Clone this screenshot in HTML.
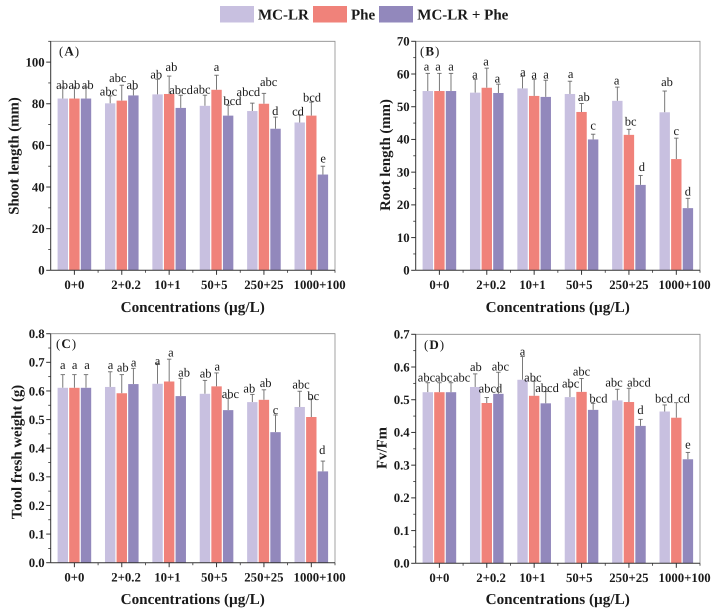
<!DOCTYPE html>
<html lang="en">
<head>
<meta charset="utf-8">
<title>Plant growth responses to MC-LR and Phe</title>
<style>
html,body{margin:0;padding:0;background:#fff;width:718px;height:614px;overflow:hidden}
svg{display:block;filter:blur(0.3px)}
text{font-family:"Liberation Serif",serif;fill:#1a1a1a;text-rendering:geometricPrecision}
.b{font-weight:bold}
</style>
</head>
<body>
<svg id="figure" width="718" height="614" viewBox="0 0 718 614" xmlns="http://www.w3.org/2000/svg">
  <g>
    <rect x="220" y="6" width="34" height="16.5" fill="#c8c0e0"/>
    <text class="b" x="258" y="19.5" font-size="15">MC-LR</text>
    <rect x="313" y="6" width="34" height="16.5" fill="#f0827a"/>
    <text class="b" x="351" y="19.5" font-size="15">Phe</text>
    <rect x="379" y="6" width="34" height="16.5" fill="#9288bc"/>
    <text class="b" x="417.3" y="19.5" font-size="15">MC-LR + Phe</text>
  </g>
</svg>
<script>
const categories = ['0+0','2+0.2','10+1','50+5','250+25','1000+100'];
const seriesNames = ['MC-LR','Phe','MC-LR + Phe'];
const seriesColors = ['#c8c0e0','#f0827a','#9288bc'];

const shootTicks = [0,20,40,60,80,100];
const shootMcLr = [82.5,80.2,84.5,79,76.5,71];
const shootPhe = [82.5,81.5,84.7,86.7,80,74.3];
const shootCombo = [82.5,84,78,74.3,68,46];
const shootMcLrErr = [5.5,3.6,7.3,5.1,3.8,3.7];
const shootPheErr = [5.5,7.4,8.6,7,5,6.5];
const shootComboErr = [5.5,3,6.1,5,5.6,4];
const shootMcLrLetters = ['ab','abc','ab','abc','abcd','cd'];
const shootPheLetters = ['ab','abc','ab','a','abc','bcd'];
const shootComboLetters = ['ab','ab','abcd','bcd','d','e'];
const shootMcLrLevels = [87.2,84,92.1,84.9,83.8,74.4];
const shootPheLevels = [87.2,90.4,95.7,95.7,88.5,81.1];
const shootComboLevels = [87.2,87.2,84.6,79.3,74.5,51.9];

const rootTicks = [0,10,20,30,40,50,60,70];
const rootMcLr = [54.8,54.3,55.6,53.9,51.8,48.3];
const rootPhe = [54.8,55.8,53.3,48.4,41.4,34];
const rootCombo = [54.8,54.2,53,40,26.1,19];
const rootMcLrErr = [5.4,4.1,3.7,3.9,4.2,6.5];
const rootPheErr = [5.4,6,5.1,2.6,1.7,6.4];
const rootComboErr = [5.4,2.7,5.1,1.6,2.9,3];
const rootMcLrLetters = ['a','a','a','a','a','ab'];
const rootPheLetters = ['a','a','a','ab','bc','c'];
const rootComboLetters = ['a','a','a','c','d','d'];
const rootMcLrLevels = [61,58.6,59.4,58.8,56.8,56.4];
const rootPheLevels = [61,62.6,58.7,51.7,44.2,41.4];
const rootComboLevels = [61,57.4,58.7,43.1,30.4,22.8];

const weightTicks = ['0.0','0.1','0.2','0.3','0.4','0.5','0.6','0.7','0.8'];
const weightMcLr = [0.611,0.614,0.625,0.59,0.561,0.544];
const weightPhe = [0.611,0.592,0.633,0.616,0.569,0.509];
const weightCombo = [0.611,0.624,0.582,0.533,0.456,0.319];
const weightMcLrErr = [0.046,0.053,0.071,0.047,0.027,0.055];
const weightPheErr = [0.046,0.065,0.078,0.047,0.035,0.063];
const weightComboErr = [0.046,0.055,0.062,0.041,0.06,0.036];
const weightMcLrLetters = ['a','a','a','ab','ab','abc'];
const weightPheLetters = ['a','ab','a','a','ab','bc'];
const weightComboLetters = ['a','a','ab','abc','c','d'];
const weightMcLrLevels = [0.677,0.677,0.691,0.647,0.594,0.609];
const weightPheLevels = [0.677,0.668,0.72,0.672,0.614,0.569];
const weightComboLevels = [0.677,0.686,0.651,0.575,0.519,0.38];

const fvTicks = ['0.0','0.1','0.2','0.3','0.4','0.5','0.6','0.7'];
const fvMcLr = [0.523,0.539,0.561,0.508,0.498,0.464];
const fvPhe = [0.523,0.49,0.512,0.524,0.493,0.445];
const fvCombo = [0.523,0.518,0.489,0.469,0.42,0.318];
const fvMcLrErr = [0.029,0.04,0.071,0.032,0.034,0.02];
const fvPheErr = [0.029,0.017,0.045,0.041,0.042,0.046];
const fvComboErr = [0.029,0.066,0.036,0.02,0.02,0.021];
const fvMcLrLetters = ['abc','ab','a','abc','abc','bcd'];
const fvPheLetters = ['abc','abcd','abc','abc','abcd','cd'];
const fvComboLetters = ['abc','abc','abcd','bcd','d','e'];
const fvMcLrLevels = [0.556,0.588,0.635,0.538,0.54,0.491];
const fvPheLevels = [0.556,0.522,0.556,0.574,0.54,0.491];
const fvComboLevels = [0.556,0.589,0.524,0.491,0.457,0.351];

const panels = [
  {key:'shoot',tag:'A',title:'Shoot length (mm)',max:110,ticks:shootTicks,
   left:50.7,top:41.3,base:270.3,tagX:59,tagY:55.5,titleX:18.5,titleY:156,xTitleY:312,xTickY:289,
   nudges:[[-0.7,-1.7,-1.3,-3,-4,-1.7],[0,-4,2.3,0,4.7,0.7],[1.7,-1,0.3,4.3,-0.3,0.3]],
   values:[shootMcLr,shootPhe,shootCombo],errs:[shootMcLrErr,shootPheErr,shootComboErr],
   letters:[shootMcLrLetters,shootPheLetters,shootComboLetters],levels:[shootMcLrLevels,shootPheLevels,shootComboLevels]},
  {key:'root',tag:'B',title:'Root length (mm)',max:70,ticks:rootTicks,
   left:415.7,top:41.3,base:270.3,tagX:420,tagY:55.5,titleX:390,titleY:155,xTitleY:312,xTickY:289,
   nudges:[[-1.3,-0.3,0.3,0.7,-0.7,2.3],[-1.3,-0.7,0,2.3,1.7,0],[0,-1,0.3,0,1.3,0]],
   values:[rootMcLr,rootPhe,rootCombo],errs:[rootMcLrErr,rootPheErr,rootComboErr],
   letters:[rootMcLrLetters,rootPheLetters,rootComboLetters],levels:[rootMcLrLevels,rootPheLevels,rootComboLevels]},
  {key:'weight',tag:'C',title:'Totol fresh weight (g)',max:0.8,ticks:weightTicks,
   left:50.7,top:333.7,base:562.7,tagX:56,tagY:348,titleX:21.5,titleY:452,xTitleY:604,xTickY:581.5,
   nudges:[[0,0.3,0,0.7,-3,1.3],[0.3,1,1.7,0.7,1.7,2],[1,0.3,3.3,2.3,0,-0.7]],
   values:[weightMcLr,weightPhe,weightCombo],errs:[weightMcLrErr,weightPheErr,weightComboErr],
   letters:[weightMcLrLetters,weightPheLetters,weightComboLetters],levels:[weightMcLrLevels,weightPheLevels,weightComboLevels]},
  {key:'fv',tag:'D',title:'Fv/Fm',max:0.7,ticks:fvTicks,
   left:415.7,top:334.3,base:563.3,tagX:424,tagY:349,titleX:386.5,titleY:448,xTitleY:604,xTickY:582,
   nudges:[[-1.3,0.7,0,0.7,-3.3,-0.7],[4.3,3.7,-1.3,0,10,7.7],[10.7,2,1.3,5.3,0,0]],
   values:[fvMcLr,fvPhe,fvCombo],errs:[fvMcLrErr,fvPheErr,fvComboErr],
   letters:[fvMcLrLetters,fvPheLetters,fvComboLetters],levels:[fvMcLrLevels,fvPheLevels,fvComboLevels]}
];

const svg = document.getElementById('figure');
const NS = 'http://www.w3.org/2000/svg';
const plotWidth = 284.3;
const barWidth = 10.4;
const barPitch = 11.6;
const xLabelShift = [0,4.3,-1.7,-2.3,0,8.3];

function mk(parent, tag, attrs, content) {
  const el = document.createElementNS(NS, tag);
  for (const k in attrs) el.setAttribute(k, attrs[k]);
  if (content !== undefined) el.textContent = content;
  parent.appendChild(el);
  return el;
}

panels.forEach(function (p) {
  const right = p.left + plotWidth;
  const band = plotWidth / categories.length;
  const xCenter = function (i) { return p.left + band * (i + 0.5); };
  const yPos = function (v) { return p.base - (v / p.max) * (p.base - p.top); };

  const g = mk(svg, 'g', {});
  
  

  p.values.forEach(function (vals, s) {
    vals.forEach(function (v, i) {
      const bx = xCenter(i) + (s - 1) * barPitch;
      const topErr = v + p.errs[s][i];

      const stem = mk(g, 'line', {x1:bx, x2:bx, y1:yPos(v), y2:yPos(topErr), stroke:'#6a6a6a', 'stroke-width':0.9});
      
      

      const cap = mk(g, 'line', {x1:bx - 2.2, x2:bx + 2.2, y1:yPos(topErr), y2:yPos(topErr), stroke:'#6a6a6a', 'stroke-width':0.9});
      
      

      const bar = mk(g, 'rect', {x:bx - barWidth / 2, y:yPos(v), width:barWidth, height:p.base - yPos(v), fill:seriesColors[s]});
      
      
      bar.setAttribute('aria-label', seriesNames[s] + ' ' + categories[i]);

      const letter = mk(g, 'text', {x:bx + p.nudges[s][i], y:yPos(p.levels[s][i]), 'font-size':12.5, 'text-anchor':'middle'}, p.letters[s][i]);
      
      
    });
  });

  const frame = mk(g, 'path', {d:'M' + p.left + ' ' + p.top + 'H' + right + 'V' + p.base, fill:'none', stroke:'#8c8c8c', 'stroke-width':0.8});
  
  

  const yAxis = mk(g, 'line', {x1:p.left, x2:p.left, y1:p.top, y2:p.base, stroke:'#333', 'stroke-width':1});
  
  

  const xAxis = mk(g, 'line', {x1:p.left, x2:right, y1:p.base, y2:p.base, stroke:'#333', 'stroke-width':1});
  
  

  const step = Number(p.ticks[1]) - Number(p.ticks[0]);
  p.ticks.forEach(function (t) {
    const tv = Number(t);
    const ty = yPos(tv);
    const tick = mk(g, 'line', {x1:p.left - 4.5, x2:p.left, y1:ty, y2:ty, stroke:'#333', 'stroke-width':1});
    
    

    const label = mk(g, 'text', {x:p.left - 6, y:ty + 4.3, 'font-size':12.8, 'font-weight':'bold', 'text-anchor':'end'}, String(t));
    
    

    if (tv + step / 2 <= p.max) {
      const my = yPos(tv + step / 2);
      const minor = mk(g, 'line', {x1:p.left - 2.5, x2:p.left, y1:my, y2:my, stroke:'#333', 'stroke-width':0.8});
      
      
    }
  });

  categories.forEach(function (c, i) {
    const cx = xCenter(i);
    const tick = mk(g, 'line', {x1:cx, x2:cx, y1:p.base, y2:p.base + 4.5, stroke:'#333', 'stroke-width':1});
    
    

    const edge = p.left + band * (i + 1);
    const minor = mk(g, 'line', {x1:edge, x2:edge, y1:p.base, y2:p.base + 2.5, stroke:'#333', 'stroke-width':0.8});
    
    

    const label = mk(g, 'text', {x:cx + xLabelShift[i], y:p.xTickY, 'font-size':12.8, 'font-weight':'bold', 'text-anchor':'middle'}, c);
    
    
  });

  const xTitle = mk(g, 'text', {x:p.left + 142, y:p.xTitleY, 'font-size':15.2, 'font-weight':'bold', 'text-anchor':'middle'}, 'Concentrations (\u00b5g/L)');
  
  

  const yTitle = mk(g, 'text', {x:p.titleX, y:p.titleY, 'font-size':14.8, 'font-weight':'bold', 'text-anchor':'middle', transform:'rotate(-90 ' + p.titleX + ' ' + p.titleY + ')'}, p.title);
  
  

  const tag = mk(g, 'text', {x:p.tagX, y:p.tagY, 'font-size':13}, '(');
  
  
  mk(tag, 'tspan', {'font-weight':'bold', dx:1}, p.tag);
  mk(tag, 'tspan', {dx:1}, ')');
});
</script>
</body>
</html>
